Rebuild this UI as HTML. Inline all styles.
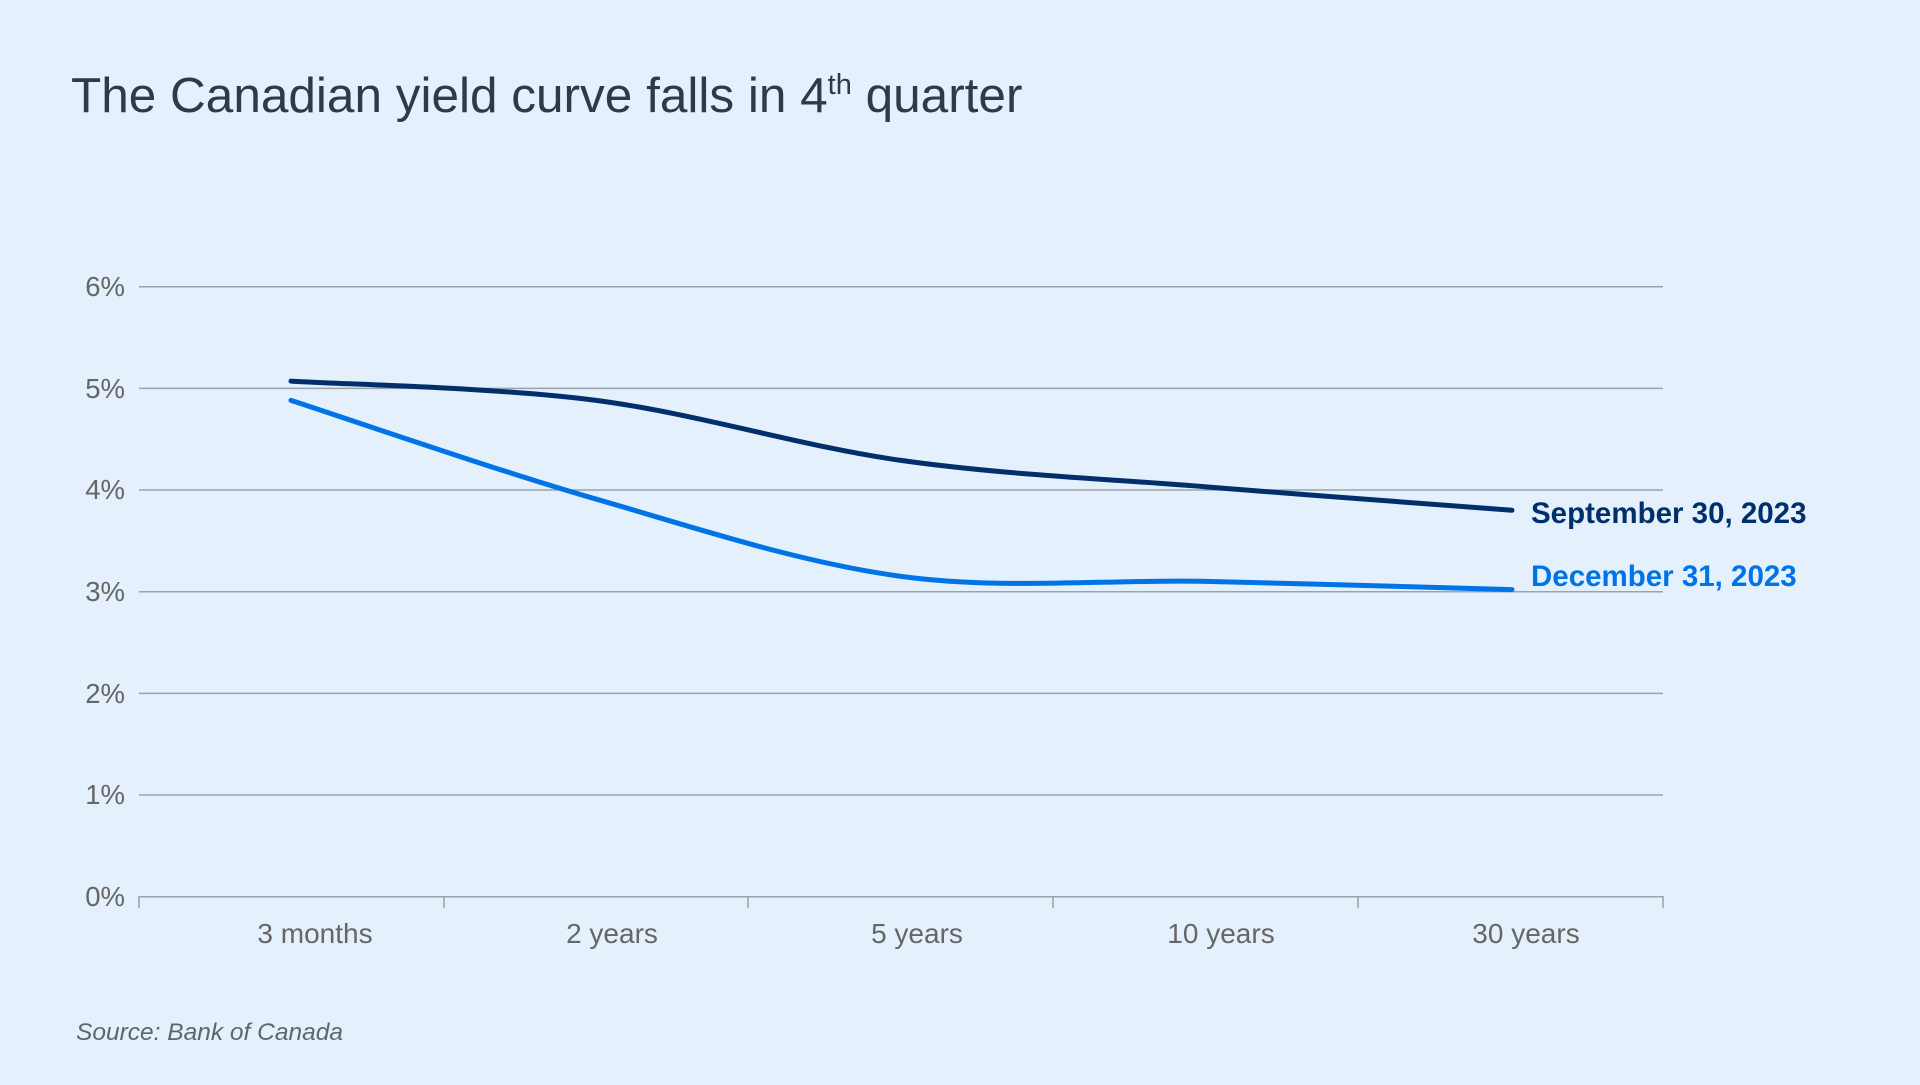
<!DOCTYPE html>
<html><head><meta charset="utf-8"><style>
body{margin:0;background:#e4f0fc;width:1920px;height:1080px;overflow:hidden;font-family:"Liberation Sans",sans-serif}
</style></head><body>
<svg id="s" width="1920" height="1080" xmlns="http://www.w3.org/2000/svg" font-family="Liberation Sans, sans-serif">
<rect width="1920" height="1080" fill="#e4f0fc"/>
<text x="71" y="112" font-size="49.5" fill="#2e3a46">The Canadian yield curve falls in 4<tspan font-size="29" dy="-18">th</tspan><tspan dy="18"> quarter</tspan></text>
<g stroke="#9aa3ad" stroke-width="1.5">
<line x1="139" x2="1663" y1="286.7" y2="286.7"/>
<line x1="139" x2="1663" y1="388.4" y2="388.4"/>
<line x1="139" x2="1663" y1="490" y2="490"/>
<line x1="139" x2="1663" y1="591.7" y2="591.7"/>
<line x1="139" x2="1663" y1="693.4" y2="693.4"/>
<line x1="139" x2="1663" y1="795" y2="795"/>
<line x1="139" x2="1663" y1="896.7" y2="896.7"/>
<line x1="139" x2="139" y1="896" y2="908"/>
<line x1="444" x2="444" y1="896" y2="908"/>
<line x1="748" x2="748" y1="896" y2="908"/>
<line x1="1053" x2="1053" y1="896" y2="908"/>
<line x1="1358" x2="1358" y1="896" y2="908"/>
<line x1="1663" x2="1663" y1="896" y2="908"/>
</g>
<g font-size="27.5" fill="#666" text-anchor="end">
<text x="125" y="296">6%</text><text x="125" y="398">5%</text><text x="125" y="499">4%</text>
<text x="125" y="601">3%</text><text x="125" y="703">2%</text><text x="125" y="804">1%</text><text x="125" y="906">0%</text>
</g>
<g font-size="28" fill="#666" text-anchor="middle">
<text x="315" y="943">3 months</text><text x="612" y="943">2 years</text><text x="917" y="943">5 years</text>
<text x="1221" y="943">10 years</text><text x="1526" y="943">30 years</text>
</g>
<path id="p1" fill="none" stroke="#002f6c" stroke-width="5" stroke-linecap="round"/>
<path id="p2" fill="none" stroke="#0073e6" stroke-width="5" stroke-linecap="round"/>
<text x="1531" y="523" font-size="29.5" font-weight="bold" fill="#002f6c">September 30, 2023</text>
<text x="1531" y="586" font-size="29.5" font-weight="bold" fill="#0073e6">December 31, 2023</text>
<text x="76" y="1040" font-size="24.5" font-style="italic" fill="#5d6670">Source: Bank of Canada</text>
</svg>
<script>
function path(v){var xs=[291,596,901,1206,1512];var p=v.map(function(y,i){return [xs[i],896.7-y*101.7]});
var d="M"+p[0][0]+","+p[0][1];
for(var i=0;i<p.length-1;i++){var a=p[i-1]||p[i],b=p[i],c=p[i+1],e=p[i+2]||c;
d+=" C"+(b[0]+(c[0]-a[0])/6)+","+(b[1]+(c[1]-a[1])/6)+" "+(c[0]-(e[0]-b[0])/6)+","+(c[1]-(e[1]-b[1])/6)+" "+c[0]+","+c[1];}
return d;}
document.getElementById("p1").setAttribute("d",path([5.07,4.88,4.29,4.03,3.80]));
document.getElementById("p2").setAttribute("d",path([4.88,3.91,3.15,3.10,3.02]));
</script>
</body></html>
